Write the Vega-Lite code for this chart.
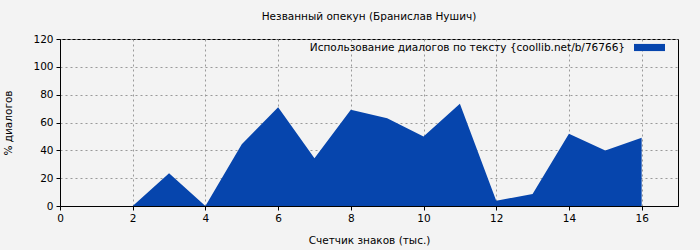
{
  "$schema": "https://vega.github.io/schema/vega-lite/v6.json",
  "width": 618,
  "height": 167,
  "autosize": {"type": "none"},
  "padding": {"left": 60, "top": 39, "right": 22, "bottom": 44},
  "background": "#f3f3f3",
  "config": {
    "font": "DejaVu Sans",
    "view": {"stroke": "#000000", "strokeWidth": 1, "fill": "#f3f3f3"},
    "axis": {
      "labelFont": "DejaVu Sans", "labelFontSize": 10.5, "labelColor": "#000000",
      "titleFont": "DejaVu Sans", "titleFontSize": 10.5, "titleFontWeight": "normal", "titleColor": "#000000",
      "gridColor": "#999999", "gridDash": [2, 3], "gridWidth": 1,
      "domainColor": "#000000", "tickColor": "#000000", "tickSize": 4, "labelFlush": false
    }
  },
  "title": {"text": "Незванный опекун (Бранислав Нушич)", "font": "DejaVu Sans", "fontSize": 10.5, "fontWeight": "normal", "color": "#000000", "offset": 10},
  "data": {"values": [
    {"x": 2, "y": 0, "s": "Использование диалогов по тексту {coollib.net/b/76766}"},
    {"x": 3, "y": 23.5, "s": "Использование диалогов по тексту {coollib.net/b/76766}"},
    {"x": 4, "y": 0, "s": "Использование диалогов по тексту {coollib.net/b/76766}"},
    {"x": 5, "y": 44.4, "s": "Использование диалогов по тексту {coollib.net/b/76766}"},
    {"x": 6, "y": 71, "s": "Использование диалогов по тексту {coollib.net/b/76766}"},
    {"x": 7, "y": 34.3, "s": "Использование диалогов по тексту {coollib.net/b/76766}"},
    {"x": 8, "y": 69.2, "s": "Использование диалогов по тексту {coollib.net/b/76766}"},
    {"x": 9, "y": 63.1, "s": "Использование диалогов по тексту {coollib.net/b/76766}"},
    {"x": 10, "y": 49.9, "s": "Использование диалогов по тексту {coollib.net/b/76766}"},
    {"x": 11, "y": 73.4, "s": "Использование диалогов по тексту {coollib.net/b/76766}"},
    {"x": 12, "y": 3.8, "s": "Использование диалогов по тексту {coollib.net/b/76766}"},
    {"x": 13, "y": 8.6, "s": "Использование диалогов по тексту {coollib.net/b/76766}"},
    {"x": 14, "y": 52, "s": "Использование диалогов по тексту {coollib.net/b/76766}"},
    {"x": 15, "y": 39.8, "s": "Использование диалогов по тексту {coollib.net/b/76766}"},
    {"x": 16, "y": 49, "s": "Использование диалогов по тексту {coollib.net/b/76766}"}
  ]},
  "mark": {"type": "area", "interpolate": "linear"},
  "encoding": {
    "x": {"field": "x", "type": "quantitative", "title": "Счетчик знаков (тыс.)",
      "scale": {"domain": [0, 17], "nice": false, "zero": false},
      "axis": {"values": [0, 2, 4, 6, 8, 10, 12, 14, 16], "format": "d", "titlePadding": 12, "labelPadding": 3}},
    "y": {"field": "y", "type": "quantitative", "title": "% диалогов",
      "scale": {"domain": [0, 120], "nice": false},
      "axis": {"values": [0, 20, 40, 60, 80, 100, 120], "titlePadding": 19, "labelPadding": 3}},
    "color": {"field": "s", "type": "nominal", "title": null,
      "scale": {"range": ["#0645ad"]},
      "legend": {"orient": "none", "legendX": 574, "legendY": -7,
        "symbolType": "M-1,-0.23H1V0.23H-1Z", "symbolSize": 961, "symbolStrokeWidth": 0,
        "labelAlign": "right", "labelOffset": -40, "labelFontSize": 10.5, "labelFont": "DejaVu Sans", "labelColor": "#000000", "labelLimit": 0}}
  }
}
